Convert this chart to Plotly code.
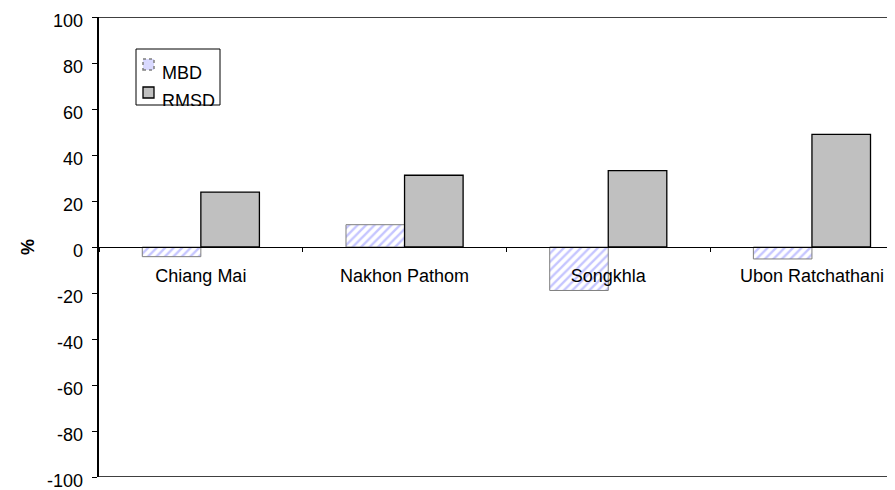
import plotly.graph_objects as go

categories = ["Chiang Mai", "Nakhon Pathom", "Songkhla", "Ubon Ratchathani"]
mbd = [-4.2, 9.7, -18.9, -5.2]
rmsd = [23.9, 31.2, 33.2, 49.0]
y_ticks = [100, 80, 60, 40, 20, 0, -20, -40, -60, -80, -100]
y_tick_labels = ["100", "80", "60", "40", "20", "0", "-20", "-40", "-60", "-80", "-100"]
series_names = ["MBD", "RMSD"]
y_title = "%"

FONT = "Liberation Sans, Arial, sans-serif"
W, H = 895, 490
ML, MR, MT, MB = 91, 0, 9, 21
PW, PH = W - ML - MR, H - MT - MB


def px(x):
    return (x - ML) / PW


def py(y):
    return (H - MB - y) / PH


fig = go.Figure()
fig.add_trace(go.Bar(
    name=series_names[0], x=categories, y=mbd,
    marker=dict(color="white",
                line=dict(color="#7f7f7f", width=1),
                pattern=dict(shape="/", fgcolor="#8c8cff", bgcolor="white",
                             size=6, solidity=0.4)),
))
fig.add_trace(go.Bar(
    name=series_names[1], x=categories, y=rmsd,
    marker=dict(color="#c0c0c0", line=dict(color="black", width=1.3)),
))

shapes = [
    dict(type="line", xref="paper", yref="y", x0=0, x1=1, y0=100, y1=100,
         line=dict(color="black", width=1.5)),
    dict(type="line", xref="paper", yref="y", x0=0, x1=1, y0=-100, y1=-100,
         line=dict(color="black", width=1.5)),
    # manual legend (box clipped like the original)
    dict(type="rect", xref="paper", yref="paper",
         x0=px(128), x1=px(212), y0=py(97), y1=py(41),
         fillcolor="white", line=dict(color="black", width=1), layer="above"),
    dict(type="rect", xref="paper", yref="paper",
         x0=px(135), x1=px(146), y0=py(62), y1=py(51),
         fillcolor="#d9d9ff", line=dict(color="#7f7f7f", width=1.5, dash="dot"),
         layer="above"),
    dict(type="rect", xref="paper", yref="paper",
         x0=px(135), x1=px(146), y0=py(90), y1=py(79),
         fillcolor="#c0c0c0", line=dict(color="black", width=1.3), layer="above"),
]

annotations = [
    dict(text=series_names[0], xref="paper", yref="paper", x=px(152), y=py(65),
         xanchor="left", yanchor="middle", showarrow=False,
         font=dict(family=FONT, size=18, color="black")),
    dict(text=series_names[1], xref="paper", yref="paper", x=px(152), y=py(93),
         xanchor="left", yanchor="middle", showarrow=False,
         font=dict(family=FONT, size=18, color="black")),
    dict(text=" ", xref="paper", yref="paper", x=px(126), y=py(97.8),
         xanchor="left", yanchor="top", showarrow=False, width=95, height=14,
         bgcolor="white", borderpad=0, borderwidth=0,
         font=dict(family=FONT, size=10, color="white")),
    dict(text="<b>" + y_title + "</b>", xref="paper", yref="paper",
         x=px(20), y=py(239), xanchor="center", yanchor="middle",
         textangle=-90, showarrow=False,
         font=dict(family=FONT, size=18, color="black")),
]

# y tick labels sit slightly below their ticks, as in the original
for v, lab in zip(y_ticks, y_tick_labels):
    annotations.append(dict(
        text=lab, xref="paper", yref="y", x=px(77), y=v,
        xanchor="right", yanchor="middle", yshift=-4, showarrow=False,
        font=dict(family=FONT, size=18, color="black")))

fig.update_layout(
    width=W, height=H,
    margin=dict(l=ML, r=MR, t=MT, b=MB),
    paper_bgcolor="white", plot_bgcolor="white",
    font=dict(family=FONT, size=18, color="black"),
    barmode="group", bargap=0.425, bargroupgap=0,
    showlegend=False,
    xaxis=dict(type="category", range=[-0.5, -0.5 + PW / 203.7],
               anchor="free", position=0.5,
               showline=True, linecolor="black", linewidth=1,
               ticks="outside", ticklen=4, tickcolor="black", tickson="boundaries",
               showgrid=False, zeroline=False, ticklabelstandoff=12,
               tickfont=dict(family=FONT, size=18, color="black")),
    yaxis=dict(range=[-100, 100], tickvals=y_ticks, showticklabels=False,
               showline=True, linecolor="black", linewidth=1.6,
               ticks="outside", ticklen=5, tickcolor="black",
               showgrid=False, zeroline=False),
    shapes=shapes,
    annotations=annotations,
)

fig.write_html("out.html")
